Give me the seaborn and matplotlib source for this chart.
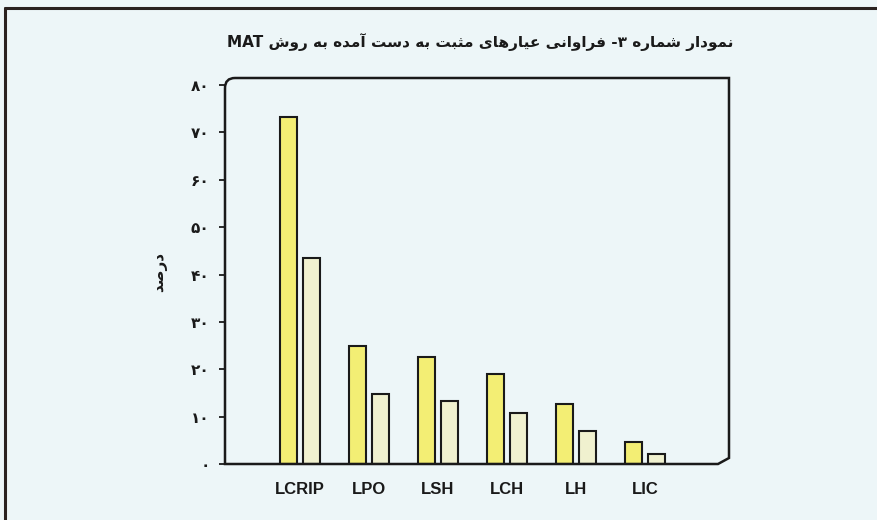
import matplotlib
matplotlib.use("Agg")
import matplotlib.pyplot as plt
import seaborn as sns
import pandas as pd
from matplotlib.path import Path
from matplotlib.patches import PathPatch

# ---------------- data ----------------
categories = ["LCRIP", "LPO", "LSH", "LCH", "LH", "LIC"]
series_a = [73.3, 25.0, 22.5, 19.0, 12.6, 4.7]   # yellow bars
series_b = [43.6, 14.7, 13.4, 10.8, 7.0, 2.2]    # pale bars
y_ticks = [0, 10, 20, 30, 40, 50, 60, 70, 80]
title_text = "نمودار شماره ۳- فراوانی عیارهای مثبت به دست آمده به روش MAT"
ylabel_text = "درصد"

# ------------- minimal Persian shaping (presentation forms) -------------
FORMS = {  # isolated, final, initial, medial
    "\u0627": ("\uFE8D", "\uFE8E", None, None),
    "\u0622": ("\uFE81", "\uFE82", None, None),
    "\u062F": ("\uFEA9", "\uFEAA", None, None),
    "\u0631": ("\uFEAD", "\uFEAE", None, None),
    "\u0648": ("\uFEED", "\uFEEE", None, None),
    "\u0628": ("\uFE8F", "\uFE90", "\uFE91", "\uFE92"),
    "\u062A": ("\uFE95", "\uFE96", "\uFE97", "\uFE98"),
    "\u062B": ("\uFE99", "\uFE9A", "\uFE9B", "\uFE9C"),
    "\u0633": ("\uFEB1", "\uFEB2", "\uFEB3", "\uFEB4"),
    "\u0634": ("\uFEB5", "\uFEB6", "\uFEB7", "\uFEB8"),
    "\u0635": ("\uFEB9", "\uFEBA", "\uFEBB", "\uFEBC"),
    "\u0639": ("\uFEC9", "\uFECA", "\uFECB", "\uFECC"),
    "\u0641": ("\uFED1", "\uFED2", "\uFED3", "\uFED4"),
    "\u0645": ("\uFEE1", "\uFEE2", "\uFEE3", "\uFEE4"),
    "\u0646": ("\uFEE5", "\uFEE6", "\uFEE7", "\uFEE8"),
    "\u0647": ("\uFEE9", "\uFEEA", "\uFEEB", "\uFEEC"),
    "\u06CC": ("\uFBFC", "\uFBFD", "\uFBFE", "\uFBFF"),
}


def dual(c):
    return c in FORMS and FORMS[c][2] is not None


def shape(text):
    out = []
    for i, c in enumerate(text):
        if c not in FORMS:
            out.append(c)
            continue
        prev = text[i - 1] if i > 0 else ""
        nxt = text[i + 1] if i + 1 < len(text) else ""
        jp = dual(prev)
        jn = dual(c) and nxt in FORMS
        iso, fin, ini, med = FORMS[c]
        if jp and jn:
            out.append(med)
        elif jp:
            out.append(fin)
        elif jn:
            out.append(ini)
        else:
            out.append(iso)
    s = "".join(out)[::-1]
    # restore left-to-right runs (latin letters and digits)
    res, run = [], []
    for ch in s:
        if ch.isascii() and ch.isalnum():
            run.append(ch)
        else:
            if run:
                res.append("".join(run[::-1]))
                run = []
            res.append(ch)
    if run:
        res.append("".join(run[::-1]))
    return "".join(res)


def fa_digits(n):
    return str(n).translate(str.maketrans("0123456789", "۰۱۲۳۴۵۶۷۸۹"))


# ---------------- figure ----------------
sns.set_theme(style="white")
plt.rcParams["font.family"] = ["DejaVu Sans"]
bg = "#edf6f8"

fig = plt.figure(figsize=(8.78, 5.20), dpi=100, facecolor=bg)
W, H = 878, 520
L, R, T, B = 225, 729, 78, 464
ax = fig.add_axes([L / W, 1 - B / H, (R - L) / W, (B - T) / H])
ax.set_facecolor(bg)

df = pd.DataFrame({
    "category": categories * 2,
    "value": series_a + series_b,
    "series": ["a"] * len(categories) + ["b"] * len(categories),
})

sns.barplot(data=df, x="category", y="value", hue="series", order=categories,
            hue_order=["a", "b"], palette=["#f3ee74", "#f0f1cf"],
            width=0.667, gap=0.26, dodge=True, edgecolor="#1a1a1a",
            linewidth=1.5, legend=False, ax=ax, saturation=1)

ax.set_xlim(-1.087, 6.217)
ax.set_ylim(0, 81.5)
ax.set_yticks(y_ticks)
ax.set_yticklabels([fa_digits(v) for v in y_ticks], fontsize=11, fontweight="bold",
                   color="#1a1a1a")
ax.tick_params(axis="y", direction="out", length=4, width=1.3, color="#1a1a1a",
               pad=7, left=True)
ax.tick_params(axis="x", length=0, pad=13)
for lab in ax.get_xticklabels():
    lab.set_fontfamily("Liberation Sans")
    lab.set_fontweight("bold")
    lab.set_fontsize(12)
    lab.set_color("#1a1a1a")
ax.set_xlabel("")
ax.set_ylabel("")
for s in ax.spines.values():
    s.set_visible(False)

# frame with rounded top-left and chamfered bottom-right corner (axes coords)
dx = 10 / (R - L)
dy = 10 / (B - T)
verts = [
    (0, 1 - dy), (0, 1), (dx, 1),
    (1, 1), (1, 6 / (B - T)), (1 - 11 / (R - L), 0), (0, 0), (0, 1 - dy),
]
codes = [Path.MOVETO, Path.CURVE3, Path.CURVE3,
         Path.LINETO, Path.LINETO, Path.LINETO, Path.LINETO, Path.LINETO]
ax.add_patch(PathPatch(Path(verts, codes), transform=ax.transAxes, fill=False,
                       edgecolor="#1a1a1a", linewidth=1.8, clip_on=False, zorder=5))

# title and y-label
fig.text(480 / W, 1 - 42 / H, shape(title_text), ha="center", va="center",
         fontsize=11, fontweight="bold", color="#1a1a1a")
fig.text(160 / W, 1 - 272 / H, shape(ylabel_text), ha="center", va="center",
         rotation=90, fontsize=11, fontweight="bold", color="#1a1a1a")

# outer border lines
fig.add_artist(plt.Line2D([5 / W, 5 / W], [0, 1 - 8 / H], transform=fig.transFigure,
                          color="#2a2220", linewidth=2.2))
fig.add_artist(plt.Line2D([5 / W, 1], [1 - 8 / H, 1 - 8 / H], transform=fig.transFigure,
                          color="#2a2220", linewidth=2.2))

fig.savefig("out.png", dpi=100, facecolor=bg)
